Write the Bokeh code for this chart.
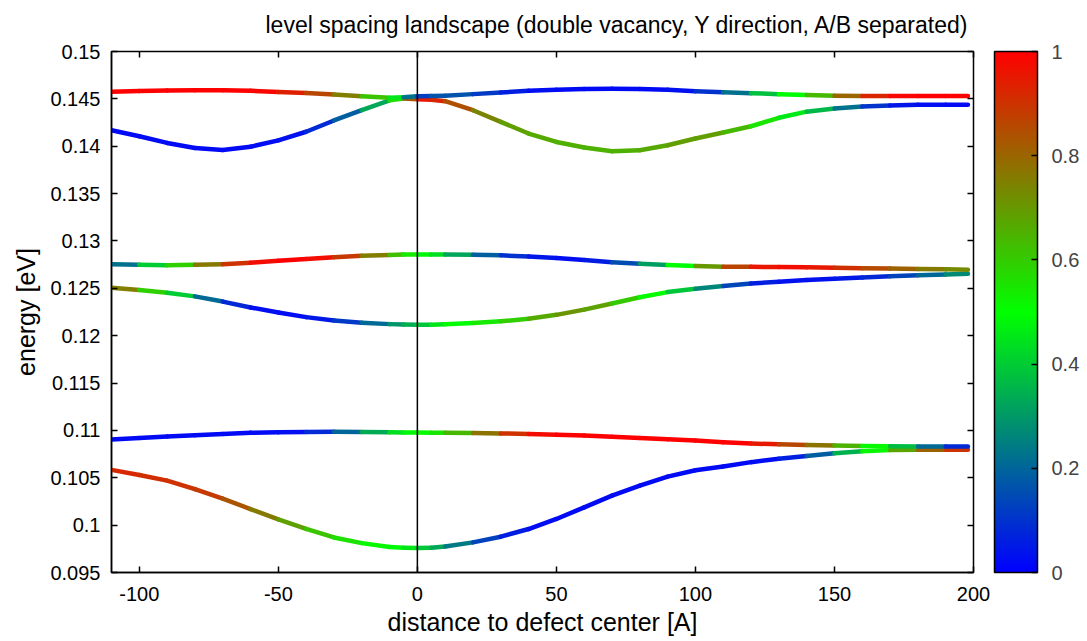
import numpy as np
from bokeh.plotting import figure
from bokeh.models import (ColumnDataSource, LinearAxis, FixedTicker, ColorBar,
                          LinearColorMapper, Span, CustomJSTickFormatter, Range1d, Title)
from bokeh.embed import file_html
from bokeh.resources import INLINE

# distance to defect center [A]
distance = [-110, -100, -90, -80, -70, -60, -50, -40, -30, -20, -10, -5, 0, 5, 10,
            20, 30, 40, 50, 60, 70, 80, 90, 100, 110, 120, 130, 140, 150, 160,
            170, 180, 190, 198]

# level energies [eV], lowest level first
level1_energy = [0.10583, 0.10530, 0.10470, 0.10380, 0.10280, 0.10170, 0.10060, 0.09960,
                 0.09870, 0.09810, 0.09770, 0.09762, 0.09758, 0.09762, 0.09775, 0.09818,
                 0.09878, 0.09959, 0.10065, 0.10188, 0.10311, 0.10417, 0.10512, 0.10580,
                 0.10620, 0.10665, 0.10700, 0.10730, 0.10759, 0.10780, 0.10792, 0.10796,
                 0.10797, 0.10797]
level2_energy = [0.10903, 0.10921, 0.10935, 0.10949, 0.10962, 0.10974, 0.10980, 0.10984,
                 0.10985, 0.10984, 0.10981, 0.10979, 0.10977, 0.10975, 0.10974, 0.10972,
                 0.10968, 0.10963, 0.10955, 0.10945, 0.10934, 0.10921, 0.10907, 0.10893,
                 0.10875, 0.10862, 0.10853, 0.10846, 0.10840, 0.10835, 0.10832, 0.10830,
                 0.10829, 0.10829]
level3_energy = [0.12505, 0.12482, 0.12454, 0.12415, 0.12360, 0.12298, 0.12245, 0.12196,
                 0.12161, 0.12137, 0.12122, 0.12117, 0.12115, 0.12116, 0.12120, 0.12135,
                 0.12152, 0.12178, 0.12220, 0.12275, 0.12340, 0.12405, 0.12460, 0.12495,
                 0.12525, 0.12550, 0.12570, 0.12587, 0.12601, 0.12614, 0.12628, 0.12638,
                 0.12647, 0.12654]
level4_energy = [0.12753, 0.12748, 0.12743, 0.12748, 0.12755, 0.12770, 0.12790, 0.12810,
                 0.12828, 0.12843, 0.12853, 0.12856, 0.12858, 0.12858, 0.12857, 0.12854,
                 0.12848, 0.12836, 0.12820, 0.12798, 0.12776, 0.12760, 0.12745, 0.12735,
                 0.12727, 0.12727, 0.12725, 0.12723, 0.12718, 0.12713, 0.12708, 0.12704,
                 0.12700, 0.12697]
level5_energy = [0.14169, 0.14105, 0.14035, 0.13982, 0.13960, 0.13995, 0.14062, 0.14153,
                 0.14272, 0.14382, 0.14484, 0.14503, 0.14497, 0.14490, 0.14476, 0.14380,
                 0.14257, 0.14134, 0.14045, 0.13986, 0.13947, 0.13958, 0.14010, 0.14081,
                 0.14145, 0.14211, 0.14300, 0.14365, 0.14398, 0.14420, 0.14430, 0.14437,
                 0.14437, 0.14437]
level6_energy = [0.14574, 0.14582, 0.14588, 0.14591, 0.14592, 0.14585, 0.14572, 0.14563,
                 0.14546, 0.14528, 0.14513, 0.14516, 0.14527, 0.14529, 0.14533, 0.14550,
                 0.14568, 0.14585, 0.14595, 0.14603, 0.14608, 0.14605, 0.14595, 0.14580,
                 0.14570, 0.14560, 0.14550, 0.14540, 0.14533, 0.14530, 0.14529, 0.14529,
                 0.14529, 0.14529]

# sublattice weight (0 = B, 1 = A) along each level
level1_weight = [0.92, 0.92, 0.90, 0.90, 0.87, 0.80, 0.72, 0.65, 0.58, 0.53, 0.50, 0.48,
                 0.42, 0.36, 0.30, 0.18, 0.08, 0.03, 0.02, 0.02, 0.02, 0.02, 0.02, 0.02,
                 0.02, 0.02, 0.03, 0.10, 0.27, 0.43, 0.60, 0.75, 0.87, 0.92]
level2_weight = [0.02, 0.02, 0.02, 0.02, 0.02, 0.02, 0.02, 0.04, 0.13, 0.27, 0.40, 0.47,
                 0.50, 0.52, 0.58, 0.70, 0.85, 0.95, 1.00, 1.00, 1.00, 1.00, 1.00, 1.00,
                 1.00, 1.00, 0.90, 0.82, 0.72, 0.58, 0.44, 0.30, 0.12, 0.05]
level3_weight = [0.82, 0.68, 0.50, 0.30, 0.12, 0.04, 0.02, 0.03, 0.07, 0.15, 0.27, 0.32,
                 0.36, 0.42, 0.48, 0.52, 0.56, 0.63, 0.70, 0.71, 0.65, 0.56, 0.45, 0.33,
                 0.20, 0.08, 0.04, 0.03, 0.04, 0.06, 0.10, 0.17, 0.24, 0.30]
level4_weight = [0.15, 0.30, 0.50, 0.68, 0.85, 0.95, 1.00, 1.00, 0.95, 0.83, 0.67, 0.58,
                 0.50, 0.47, 0.40, 0.25, 0.13, 0.06, 0.03, 0.03, 0.08, 0.22, 0.40, 0.60,
                 0.80, 0.93, 0.98, 0.97, 0.93, 0.88, 0.83, 0.78, 0.74, 0.72]
level5_weight = [0.02, 0.02, 0.02, 0.02, 0.02, 0.02, 0.03, 0.04, 0.13, 0.24, 0.42, 0.70,
                 0.95, 0.95, 0.90, 0.78, 0.70, 0.67, 0.66, 0.65, 0.65, 0.66, 0.68, 0.70,
                 0.68, 0.60, 0.50, 0.42, 0.30, 0.15, 0.06, 0.03, 0.02, 0.02]
level6_weight = [1.00, 1.00, 1.00, 1.00, 1.00, 1.00, 0.97, 0.90, 0.82, 0.68, 0.55, 0.35,
                 0.10, 0.15, 0.18, 0.15, 0.08, 0.04, 0.02, 0.02, 0.02, 0.02, 0.02, 0.05,
                 0.15, 0.30, 0.45, 0.55, 0.72, 0.88, 0.97, 1.00, 1.00, 1.00]

x_ticks = [-100, -50, 0, 50, 100, 150, 200]
y_ticks = [0.095, 0.1, 0.105, 0.11, 0.115, 0.12, 0.125, 0.13, 0.135, 0.14, 0.145, 0.15]
cbar_ticks = [0, 0.2, 0.4, 0.6, 0.8, 1]

FONT = "Liberation Sans"

# blue -> green -> red ramp
def ramp(t):
    if t < 0.5:
        r, g, b = 0.0, 2 * t, 1 - 2 * t
    else:
        r, g, b = 2 * t - 1, 2 - 2 * t, 0.0
    return "#%02x%02x%02x" % (round(r * 255), round(g * 255), round(b * 255))

palette = [ramp(i / 255) for i in range(256)]
mapper = LinearColorMapper(palette=palette, low=0, high=1)

# one coloured segment between consecutive samples of every level
levels = [(level1_energy, level1_weight), (level2_energy, level2_weight),
          (level3_energy, level3_weight), (level4_energy, level4_weight),
          (level5_energy, level5_weight), (level6_energy, level6_weight)]
seg = dict(x0=[], y0=[], x1=[], y1=[], w=[])
for energy, weight in levels:
    for i in range(len(distance) - 1):
        seg["x0"].append(distance[i]); seg["x1"].append(distance[i + 1])
        seg["y0"].append(energy[i]); seg["y1"].append(energy[i + 1])
        seg["w"].append(0.5 * (weight[i] + weight[i + 1]))
source = ColumnDataSource(seg)

p = figure(frame_width=862, frame_height=521, output_backend="svg", toolbar_location=None,
           x_range=Range1d(-110, 200), y_range=Range1d(0.095, 0.15),
           min_border_left=111, min_border_right=114, min_border_top=51, min_border_bottom=69,
           background_fill_color="white", border_fill_color="white")
p.xgrid.visible = False
p.ygrid.visible = False
p.outline_line_color = "black"
p.outline_line_width = 1.5
p.outline_line_alpha = 1.0

p.segment("x0", "y0", "x1", "y1", source=source, line_width=4.5, line_cap="round",
          line_color={"field": "w", "transform": mapper})

p.add_layout(Span(location=0, dimension="height", line_color="black", line_width=1.5))

for ax in p.xaxis + p.yaxis:
    ax.major_tick_in = 6
    ax.major_tick_out = 0
    ax.minor_tick_in = 0
    ax.minor_tick_out = 0
    ax.major_tick_line_width = 1.5
    ax.axis_line_width = 1.5
    ax.major_label_text_font = FONT
    ax.major_label_text_font_size = "20px"
    ax.major_label_text_color = "black"
    ax.axis_label_text_font = FONT
    ax.axis_label_text_font_size = "25px"
    ax.axis_label_text_font_style = "normal"
    ax.axis_label_text_color = "black"

p.xaxis.ticker = FixedTicker(ticks=x_ticks)
p.yaxis.ticker = FixedTicker(ticks=y_ticks)
p.xaxis.formatter = CustomJSTickFormatter(code="return String(tick);")
p.yaxis.formatter = CustomJSTickFormatter(code="return String(Math.round(tick*1000)/1000);")
p.xaxis.axis_label = "distance to defect center [A]"
p.yaxis.axis_label = "energy [eV]"
p.xaxis.major_label_standoff = 14
p.yaxis.major_label_standoff = 11
p.xaxis.axis_label_standoff = 4
p.yaxis.axis_label_standoff = 7

# mirrored ticks on top and right edges of the frame (no labels)
def mirror_axis(ticks):
    return LinearAxis(ticker=FixedTicker(ticks=ticks), major_label_text_font_size="1px",
                      major_label_text_color=None, major_label_standoff=0,
                      major_tick_in=6, major_tick_out=0, minor_tick_in=0, minor_tick_out=0,
                      major_tick_line_width=1.5, axis_line_color=None)

p.add_layout(mirror_axis(x_ticks), "above")
p.add_layout(mirror_axis(y_ticks), "right")

cbar = ColorBar(color_mapper=mapper, width=43, height=521, padding=0, location=(21, 0),
                ticker=FixedTicker(ticks=cbar_ticks),
                formatter=CustomJSTickFormatter(code="return String(Math.round(tick*10)/10);"),
                major_label_text_font=FONT, major_label_text_font_size="20px",
                label_standoff=14, major_tick_in=6, major_tick_out=0,
                major_tick_line_color="black", major_tick_line_width=1.5,
                bar_line_color="black", bar_line_width=1.5,
                border_line_color=None, background_fill_color=None)
p.add_layout(cbar, "right")

p.add_layout(Title(text="level spacing landscape (double vacancy, Y direction, A/B separated)",
                   align="left", offset=154, standoff=23, vertical_align="top",
                   text_font=FONT, text_font_size="23px",
                   text_font_style="normal", text_color="black"), "above")

open("out.html", "w").write(file_html(p, INLINE))
